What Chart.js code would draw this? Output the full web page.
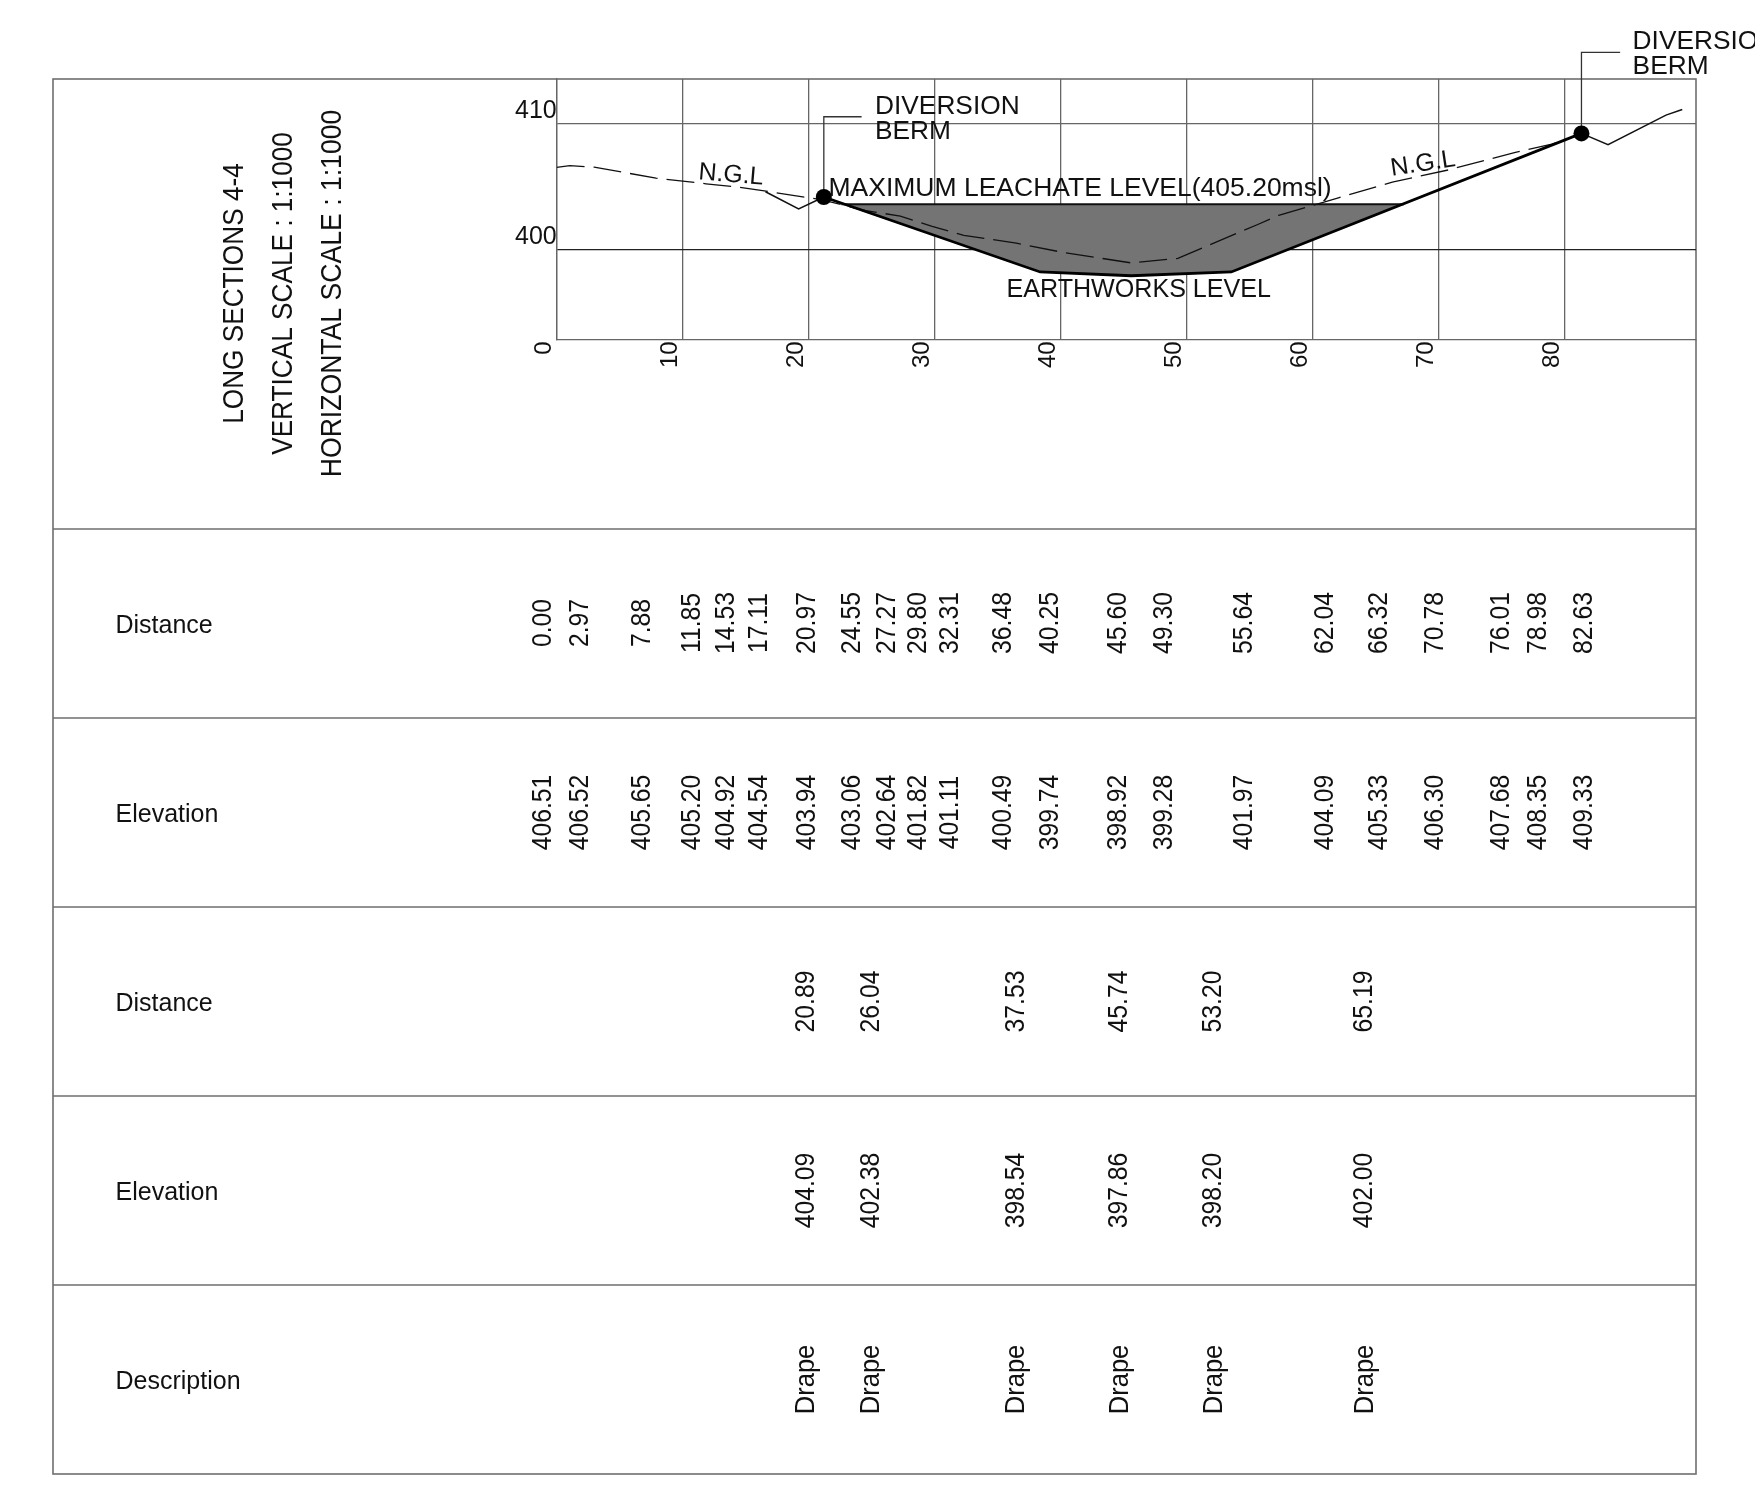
<!DOCTYPE html>
<html><head><meta charset="utf-8">
<style>html,body{margin:0;padding:0;background:#fff;overflow:hidden}canvas{display:block}</style>
<script src="https://cdn.jsdelivr.net/npm/chart.js@4"></script>
</head><body>
<div style="width:1755px;height:1494px"><canvas id="c" width="1755" height="1494"></canvas></div>
<script>
// ---- data ----
const xTickValues = [0,10,20,30,40,50,60,70,80];
const yTickValues = [400,410];

const tableDistanceNgl = ["0.00","2.97","7.88","11.85","14.53","17.11","20.97","24.55","27.27","29.80","32.31","36.48","40.25","45.60","49.30","55.64","62.04","66.32","70.78","76.01","78.98","82.63"];
const tableElevationNgl = ["406.51","406.52","405.65","405.20","404.92","404.54","403.94","403.06","402.64","401.82","401.11","400.49","399.74","398.92","399.28","401.97","404.09","405.33","406.30","407.68","408.35","409.33"];
const tableDistanceDrape = ["20.89","26.04","37.53","45.74","53.20","65.19"];
const tableElevationDrape = ["404.09","402.38","398.54","397.86","398.20","402.00"];
const tableDescription = ["Drape","Drape","Drape","Drape","Drape","Drape"];
const rowLabels = ["Distance","Elevation","Distance","Elevation","Description"];
const titleLines = ["LONG SECTIONS 4-4","VERTICAL SCALE : 1:1000","HORIZONTAL SCALE : 1:1000"];

const nglX = [0,1.04,2.97,7.88,11.85,14.53,17.11,20.97,24.55,27.27,29.80,32.31,36.48,40.25,45.60,49.30,55.64,57.3,62.04,66.32,70.78,76.01,78.98,80.6];
const nglY = [406.51,406.64,406.52,405.65,405.20,404.92,404.54,403.94,403.06,402.64,401.82,401.11,400.49,399.74,398.92,399.28,401.97,402.7,404.09,405.33,406.30,407.68,408.35,408.9];
const earthX = [21.2,38.37,45.6,53.54,81.33];
const earthY = [404.15,398.2,397.9,398.2,409.2];
const pondX = [22.6,38.37,45.6,53.54,67.25];
const pondY = [403.57,398.2,397.9,398.2,403.57];
const levelX = [22.6,67.25];
const levelY = [403.57,403.57];
const bermLeftX = [16.57,19.2,21.2];
const bermLeftY = [404.57,403.2,404.15];
const bermRightX = [81.33,83.44,88.04,89.33];
const bermRightY = [409.2,408.3,410.65,411.1];
const markerX = [21.2,81.33];
const markerY = [404.15,409.2];
const leaderLeftX = [21.2,21.2,24.2];
const leaderLeftY = [404.15,410.52,410.52];
const leaderRightX = [81.33,81.33,84.4];
const leaderRightY = [409.2,415.63,415.63];

const zip = (xs,ys) => xs.map((x,i)=>({x,y:ys[i]}));

// ---- layout ----
const W=1755,H=1494;
const FONT='"Liberation Sans", Arial, sans-serif';
const frame={l:53,r:1696,t:79,b:1474};
const rowLines=[529,718,907,1096,1285];
const rowCentres=[623,812.5,1001.5,1190.5,1379.5];
const labelCentres=[626,815,1004,1193,1382];
const plot={l:556.7,r:1696,t:79,b:339.3};
const tableShift=-13.2;
const tickShift=-12.8;

function txt(ctx,s,x,y,size,rot,align,stretch){
  ctx.save();ctx.translate(x,y);ctx.rotate((rot||0)*Math.PI/180);
  if(stretch)ctx.scale(1,stretch);
  ctx.font=size+'px '+FONT;ctx.fillStyle='#111';ctx.textAlign=align||'left';ctx.textBaseline='middle';
  ctx.fillText(s,0,0);ctx.restore();
}
const sheet={
  id:'sheet',
  beforeDraw(ch){
    const c=ch.ctx;c.save();c.fillStyle='#fff';c.fillRect(0,0,W,H);
    c.strokeStyle='#6e6e6e';c.lineWidth=1.6;c.strokeRect(frame.l,frame.t,frame.r-frame.l,frame.b-frame.t);
    c.lineWidth=1.3;
    rowLines.forEach(y=>{c.beginPath();c.moveTo(frame.l,y);c.lineTo(frame.r,y);c.stroke();});
    c.restore();
  },
  afterDraw(ch){
    const c=ch.ctx,xs=ch.scales.x;
    const col=(vals,pos,row,size)=>vals.forEach((v,i)=>txt(c,v,xs.getPixelForValue(parseFloat(pos[i]))+tableShift,rowCentres[row],size,-90,'center',1.1));
    col(tableDistanceNgl,tableDistanceNgl,0,24.7);
    col(tableElevationNgl,tableDistanceNgl,1,24.7);
    col(tableDistanceDrape,tableDistanceDrape,2,24.7);
    col(tableElevationDrape,tableDistanceDrape,3,24.7);
    col(tableDescription,tableDistanceDrape,4,25.6);
    rowLabels.forEach((s,i)=>txt(c,s,115.5,labelCentres[i],25,0,'left'));
    txt(c,titleLines[0],235.5,293.5,26.2,-90,'center',1.1);
    txt(c,titleLines[1],284.5,293.5,26.2,-90,'center',1.1);
    txt(c,titleLines[2],333,293.5,26.6,-90,'center',1.1);
    txt(c,'DIVERSION',875,107,26.3,0);txt(c,'BERM',875,132,26.3,0);
    txt(c,'DIVERSION',1632.6,42,26.3,0);txt(c,'BERM',1632.6,67,26.3,0);
    txt(c,'MAXIMUM LEACHATE LEVEL(405.20msl)',828.5,189,26.5,0);
    txt(c,'EARTHWORKS LEVEL',1006.5,290,25.1,0);
    txt(c,'N.G.L',731,175,25,4.8,'center');
    txt(c,'N.G.L',1423,164,25,-8.5,'center');
  }
};

new Chart(document.getElementById('c'),{
  type:'scatter',
  plugins:[sheet],
  data:{datasets:[
    {label:'Leachate',data:zip(pondX,pondY),showLine:true,fill:'shape',backgroundColor:'#747474',borderWidth:0,pointRadius:0,order:6},
    {label:'Level',data:zip(levelX,levelY),showLine:true,borderColor:'#111',borderWidth:2,pointRadius:0,order:5},
    {label:'N.G.L',data:zip(nglX,nglY),showLine:true,borderColor:'#111',borderWidth:1.3,borderDash:[28,9],pointRadius:0,order:4},
    {label:'Earthworks',data:zip(earthX,earthY),showLine:true,borderColor:'#000',borderWidth:2.8,pointRadius:0,order:3},
    {label:'Berm L',data:zip(bermLeftX,bermLeftY),showLine:true,borderColor:'#111',borderWidth:1.5,pointRadius:0,order:3},
    {label:'Berm R',data:zip(bermRightX,bermRightY),showLine:true,borderColor:'#111',borderWidth:1.5,pointRadius:0,clip:false,order:3},
    {label:'Leader L',data:zip(leaderLeftX,leaderLeftY),showLine:true,borderColor:'#333',borderWidth:1.3,pointRadius:0,clip:false,order:2},
    {label:'Leader R',data:zip(leaderRightX,leaderRightY),showLine:true,borderColor:'#333',borderWidth:1.3,pointRadius:0,clip:false,order:2},
    {label:'Berm',data:zip(markerX,markerY),showLine:false,pointRadius:8,backgroundColor:'#000',borderColor:'#000',pointBorderWidth:0,clip:false,order:1}
  ]},
  options:{
    responsive:false,animation:false,devicePixelRatio:1,
    layout:{padding:{left:0,top:plot.t,right:W-plot.r,bottom:0}},
    plugins:{legend:{display:false},tooltip:{enabled:false},title:{display:false}},
    scales:{
      x:{type:'linear',min:0,max:(plot.r-plot.l)/12.6,
        afterBuildTicks:s=>{s.ticks=xTickValues.map(v=>({value:v}));},
        afterFit:s=>{s.height=H-plot.b;},
        grid:{color:'#666',lineWidth:1.3,drawTicks:false},
        border:{display:true,color:'#666',width:1.3},
        ticks:{autoSkip:false,minRotation:90,maxRotation:90,padding:2,labelOffset:tickShift,color:'#111',font:{family:FONT,size:24},callback:v=>String(v)}
      },
      y:{type:'linear',min:400-(plot.b-249.3)/12.6,max:400+(249.3-plot.t)/12.6,
        afterBuildTicks:s=>{s.ticks=yTickValues.map(v=>({value:v}));},
        afterFit:s=>{s.width=plot.l;},
        grid:{color:c=>c.tick&&c.tick.value===400?'#222':'#666',lineWidth:1.2,drawTicks:false},
        border:{display:true,color:'#666',width:1.3},
        ticks:{autoSkip:false,padding:0,color:'#111',font:{family:FONT,size:25,lineHeight:1.0},callback:v=>[String(v),'']}
      }
    }
  }
});
</script>
</body></html>
